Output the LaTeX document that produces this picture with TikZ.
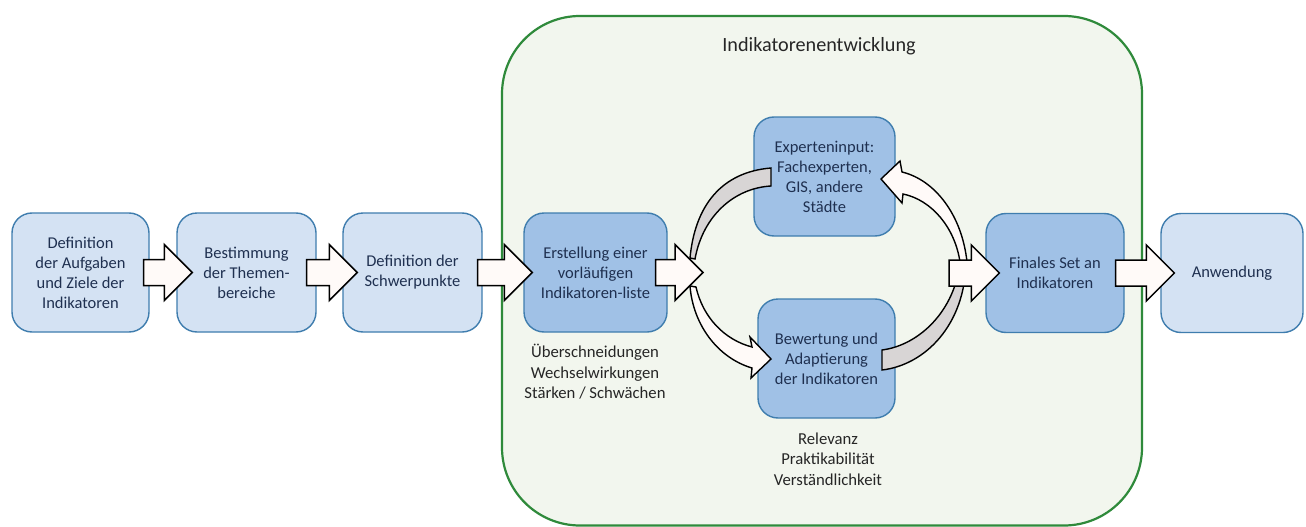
\documentclass[tikz,border=0pt]{standalone}
\usepackage{fontspec}
\setmainfont{Carlito}
\usetikzlibrary{calc}
\definecolor{boxline}{HTML}{3F7DAE}
\definecolor{lightfill}{HTML}{D4E2F3}
\definecolor{darkfill}{HTML}{A0C1E6}
\definecolor{navy}{HTML}{1F3050}
\definecolor{greenline}{HTML}{2F8A3B}
\definecolor{greenfill}{HTML}{F2F6EE}
\definecolor{bandgray}{HTML}{D8D5D5}
\definecolor{arrowfill}{HTML}{FFFAF8}
\definecolor{annot}{HTML}{262626}
\newcommand\blockarrow[2]{\draw[barrow] let \p1=#1, \p2=#2 in
  (\x1,\y1+13pt) -- (\x2-28pt,\y1+13pt) -- (\x2-28pt,\y1+28pt) -- (\x2,\y1)
  -- (\x2-28pt,\y1-28pt) -- (\x2-28pt,\y1-13pt) -- (\x1,\y1-13pt) -- cycle;}
\begin{document}
\begin{tikzpicture}[x=1pt,y=-1pt,
  box/.style={draw=boxline, line width=1.4pt, rounded corners=20pt,
    minimum width=139pt, minimum height=119pt, align=center, text=navy,
    font=\fontsize{16.5}{20}\selectfont, inner sep=2pt},
  lightbox/.style={box, fill=lightfill},
  darkbox/.style={box, fill=darkfill},
  annotation/.style={align=center, text=annot, font=\fontsize{16.7}{20.5}\selectfont},
  barrow/.style={draw=black, line width=1.5pt, fill=arrowfill, line join=miter},
  curvearrow/.style={draw=black, line width=1.4pt, fill=arrowfill, line join=miter},
  band/.style={draw=black, line width=1.4pt, fill=bandgray, line join=miter},
  container/.style={draw=greenline, line width=2.2pt, fill=greenfill, rounded corners=78pt}]
\useasboundingbox (0,0) rectangle (1306,527);
\fill[white] (0,0) rectangle (1306,527);
% container
\draw[container] (502,16) rectangle (1142,525.5);
\node[text=annot, font=\fontsize{20.2}{24}\selectfont] (title) at (819,46) {Indikatorenentwicklung};
% boxes
\node[lightbox, minimum width=137pt] (b1) at (80.5,272.5) {Definition\\der Aufgaben\\und Ziele der\\Indikatoren};
\node[lightbox] (b2) at (246.5,272.5) {Bestimmung\\der Themen-\\bereiche};
\node[lightbox] (b3) at (412.5,272.5) {Definition der\\Schwerpunkte};
\node[darkbox, minimum width=143pt] (b4) at (595.5,272.5) {Erstellung einer\\vorläufigen\\Indikatoren-liste};
\node[darkbox, minimum width=141pt] (b5) at (824.5,176.5) {Experteninput:\\Fachexperten,\\GIS, andere\\Städte};
\node[darkbox, minimum width=137pt] (b6) at (826.5,358.5) {Bewertung und\\Adaptierung\\der Indikatoren};
\node[darkbox, minimum width=138pt] (b7) at (1055,273) {Finales Set an\\Indikatoren};
\node[lightbox, minimum width=142pt] (b8) at (1232,273) {Anwendung};
% annotations
\node[annotation] (n1) at (595,372) {Überschneidungen\\Wechselwirkungen\\Stärken / Schwächen};
\node[annotation] (n2) at (828,459) {Relevanz\\Praktikabilität\\Verständlichkeit};
% loop coordinates
\coordinate (loopL) at (703,273);
\coordinate (loopR) at (949,273);
% curved arrows (loop)
\draw[band] (690,258) .. controls (695,205) and (722,172) .. (771,168)
  -- (771,186) .. controls (735,188) and (703,215) .. (695,259) -- cycle;
\draw[curvearrow] (690,286) .. controls (693,325) and (718,358) .. (752,368)
  -- (751,378) -- (771,359) -- (750,337) -- (752,347)
  .. controls (725,340) and (703,318) .. (696,287) -- cycle;
\draw[curvearrow] (881,179) -- (900,161) -- (902,172)
  .. controls (935,180) and (962,215) .. (967,262) -- (960,262)
  .. controls (955,228) and (932,200) .. (903,194) -- (902,203) -- cycle;
\draw[band] (966,262) .. controls (965,325) and (925,365) .. (882,370)
  -- (882,350) .. controls (920,345) and (955,310) .. (960,262) -- cycle;
% block arrows
\blockarrow{($(b1.east)+(-6,0)$)}{($(b2.west)+(16,0)$)}
\blockarrow{($(b2.east)+(-10,0)$)}{($(b3.west)+(15,0)$)}
\blockarrow{($(b3.east)+(-5,0)$)}{($(b4.west)+(9,0)$)}
\blockarrow{($(b4.east)+(-12,0)$)}{(loopL)}
\blockarrow{(loopR)}{($(b7.west)+(14,0)$)}
\blockarrow{($(b7.east)+(-9,0)$)}{($(b8.west)+(14,0)$)}
\end{tikzpicture}
\end{document}
